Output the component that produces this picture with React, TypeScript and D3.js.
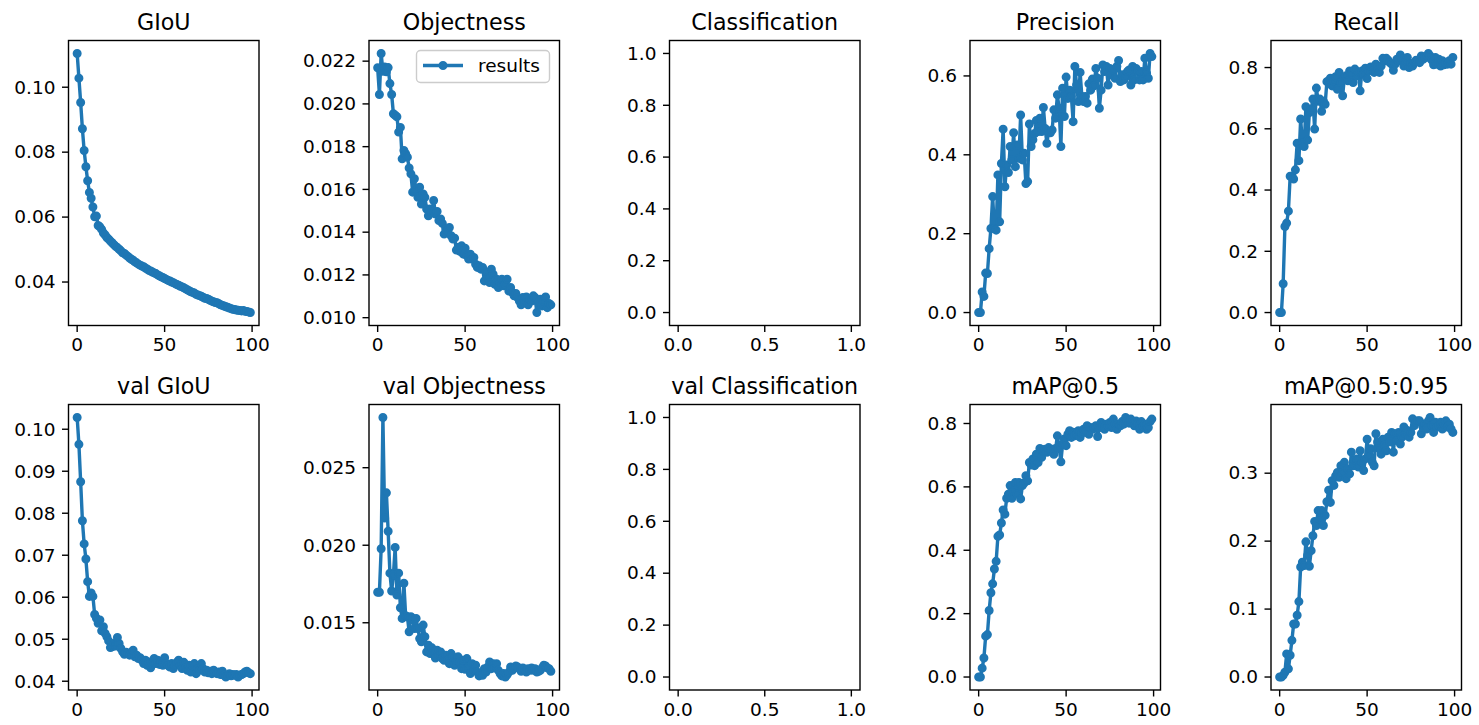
import React from "react";
import * as d3 from "d3";

// ---------- data (epochs 0..99) ----------
const giou = [
  0.1104, 0.1028, 0.0953, 0.0872, 0.0805, 0.0755, 0.0712, 0.0676, 0.0658, 0.0631,
  0.0601, 0.0603, 0.0574, 0.057, 0.0562, 0.0551, 0.0545, 0.0537, 0.0532, 0.0526,
  0.0521, 0.0515, 0.051, 0.0506, 0.0501, 0.0496, 0.049, 0.0488, 0.0483, 0.0479,
  0.0474, 0.047, 0.0467, 0.0462, 0.0459, 0.0455, 0.0452, 0.0449, 0.0447, 0.0443,
  0.044, 0.0436, 0.0434, 0.0431, 0.0428, 0.0426, 0.0422, 0.0419, 0.0416, 0.0414,
  0.0411, 0.0408, 0.0405, 0.0403, 0.04, 0.0398, 0.0395, 0.0392, 0.039, 0.0387,
  0.0385, 0.0382, 0.0379, 0.0376, 0.0373, 0.037, 0.0368, 0.0366, 0.0362, 0.036,
  0.0358, 0.0356, 0.0353, 0.035, 0.0349, 0.0347, 0.0344, 0.0341, 0.0339, 0.0337,
  0.0336, 0.0333, 0.033, 0.0328, 0.0326, 0.0324, 0.0322, 0.032, 0.0318, 0.0316,
  0.0315, 0.0314, 0.0313, 0.0312, 0.0311, 0.0312, 0.031, 0.0309, 0.0308, 0.0306,
];

const objectness = [
  0.02169, 0.02044, 0.02236, 0.02153, 0.02173, 0.0215, 0.0217, 0.02095, 0.02044, 0.01954,
  0.01947, 0.0194, 0.01868, 0.0189, 0.01743, 0.01782, 0.01767, 0.01751, 0.017, 0.01673,
  0.01587, 0.0165, 0.01595, 0.01563, 0.0161, 0.01532, 0.01579, 0.01563, 0.01508, 0.01477,
  0.01508, 0.01493, 0.01548, 0.01485, 0.01497, 0.01454, 0.01462, 0.01441, 0.01391, 0.01415,
  0.01407, 0.01422, 0.01383, 0.01368, 0.01372, 0.01316, 0.01329, 0.0131, 0.01336, 0.01297,
  0.01325, 0.0129, 0.01274, 0.01297, 0.01274, 0.01282, 0.0125, 0.01235, 0.01243, 0.01227,
  0.01235, 0.01172, 0.01211, 0.01188, 0.01164, 0.01227, 0.01203, 0.01156, 0.0118, 0.01141,
  0.01164, 0.0118, 0.01149, 0.01156, 0.0118, 0.01125, 0.01141, 0.01117, 0.01102, 0.01113,
  0.01094, 0.01078, 0.0106, 0.01094, 0.0107, 0.01097, 0.0106, 0.01086, 0.01078, 0.01102,
  0.01094, 0.01024, 0.0107, 0.01086, 0.01055, 0.01078, 0.01097, 0.01047, 0.01066, 0.0106,
];

const precision = [
  0, 0, 0.052, 0.041, 0.1, 0.099, 0.162, 0.213, 0.294, 0.213,
  0.209, 0.349, 0.23, 0.378, 0.465, 0.319, 0.374, 0.355, 0.421, 0.387,
  0.456, 0.37, 0.425, 0.391, 0.501, 0.387, 0.404, 0.327, 0.332, 0.478,
  0.421, 0.438, 0.454, 0.487, 0.459, 0.493, 0.459, 0.52, 0.467, 0.429,
  0.459, 0.456, 0.463, 0.514, 0.493, 0.552, 0.518, 0.421, 0.569, 0.497,
  0.597, 0.543, 0.564, 0.548, 0.484, 0.624, 0.577, 0.535, 0.609, 0.548,
  0.535, 0.548, 0.531, 0.58, 0.564, 0.592, 0.575, 0.619, 0.594, 0.518,
  0.564, 0.628, 0.611, 0.624, 0.577, 0.619, 0.603, 0.615, 0.594, 0.624,
  0.639, 0.586, 0.603, 0.59, 0.598, 0.611, 0.615, 0.577, 0.624, 0.59,
  0.619, 0.611, 0.59, 0.611, 0.59, 0.645, 0.607, 0.594, 0.657, 0.649,
];

const recall = [
  0, 0, 0.094, 0.281, 0.292, 0.331, 0.445, 0.445, 0.436, 0.466,
  0.553, 0.496, 0.632, 0.553, 0.542, 0.672, 0.563, 0.653, 0.664, 0.697,
  0.599, 0.733, 0.69, 0.697, 0.657, 0.69, 0.68, 0.754, 0.757, 0.765,
  0.74, 0.757, 0.77, 0.729, 0.784, 0.751, 0.708, 0.767, 0.773, 0.757,
  0.789, 0.78, 0.751, 0.795, 0.773, 0.784, 0.724, 0.789, 0.778, 0.798,
  0.764, 0.789, 0.802, 0.795, 0.784, 0.811, 0.8, 0.784, 0.805, 0.83,
  0.822, 0.83, 0.824, 0.816, 0.811, 0.791, 0.811, 0.827, 0.822, 0.841,
  0.827, 0.805, 0.822, 0.833, 0.8, 0.813, 0.805, 0.816, 0.824, 0.822,
  0.816, 0.838, 0.827, 0.835, 0.833, 0.846, 0.838, 0.824, 0.809, 0.833,
  0.811, 0.827, 0.805, 0.822, 0.809, 0.816, 0.811, 0.822, 0.811, 0.833,
];

const valGiou = [
  0.1028, 0.0964, 0.0875, 0.0782, 0.0727, 0.0691, 0.0637, 0.0602, 0.061, 0.0602,
  0.0559, 0.055, 0.0538, 0.0546, 0.052, 0.053, 0.0514, 0.0506, 0.0496, 0.048,
  0.0482, 0.049, 0.0484, 0.0504, 0.049, 0.0478, 0.047, 0.0464, 0.0469, 0.0466,
  0.0462, 0.0469, 0.0474, 0.0458, 0.0462, 0.0454, 0.0456, 0.045, 0.0442, 0.045,
  0.0438, 0.0446, 0.0432, 0.0442, 0.0454, 0.0442, 0.045, 0.044, 0.0446, 0.0438,
  0.0456, 0.0442, 0.0437, 0.0434, 0.0442, 0.043, 0.0437, 0.0445, 0.045, 0.0438,
  0.043, 0.0445, 0.0432, 0.0426, 0.0438, 0.0422, 0.0437, 0.0442, 0.0418, 0.043,
  0.0426, 0.0442, 0.043, 0.0422, 0.0426, 0.042, 0.0424, 0.0418, 0.0426, 0.042,
  0.0418, 0.0422, 0.0416, 0.0424, 0.0414, 0.041, 0.0414, 0.0418, 0.0413, 0.0416,
  0.0414, 0.0416, 0.041, 0.0414, 0.0416, 0.0418, 0.0422, 0.0424, 0.042, 0.0418,
];

const valObjectness = [
  0.01697, 0.01697, 0.01977, 0.02824, 0.02176, 0.02338, 0.0209, 0.0182, 0.01705, 0.01809,
  0.01986, 0.01679, 0.0182, 0.01597, 0.01528, 0.01755, 0.01545, 0.01539, 0.01442, 0.01539,
  0.01528, 0.01463, 0.01528, 0.01463, 0.01398, 0.01377, 0.01485, 0.0141, 0.01312, 0.01355,
  0.01301, 0.01338, 0.01312, 0.01273, 0.01323, 0.0129, 0.01312, 0.01269, 0.01258, 0.0129,
  0.01258, 0.01236, 0.01301, 0.0128, 0.01226, 0.01258, 0.0128, 0.01247, 0.01204, 0.01258,
  0.012, 0.01269, 0.01215, 0.01172, 0.01236, 0.01193, 0.01226, 0.01182, 0.01157, 0.01172,
  0.01161, 0.01204, 0.01182, 0.01215, 0.01247, 0.01204, 0.01236, 0.01209, 0.01236, 0.01193,
  0.01172, 0.01157, 0.01172, 0.0115, 0.01165, 0.01182, 0.01215, 0.01193, 0.01209, 0.01221,
  0.01215, 0.01204, 0.01187, 0.01209, 0.012, 0.01182, 0.01204, 0.01193, 0.01209, 0.01193,
  0.01204, 0.01182, 0.01187, 0.01193, 0.01209, 0.01226, 0.01221, 0.01209, 0.01204, 0.01187,
];

const map50 = [
  0, 0, 0.028, 0.06, 0.129, 0.134, 0.21, 0.266, 0.294, 0.341,
  0.365, 0.444, 0.448, 0.486, 0.527, 0.514, 0.564, 0.577, 0.604, 0.564,
  0.588, 0.614, 0.577, 0.614, 0.562, 0.604, 0.612, 0.635, 0.619, 0.677,
  0.669, 0.688, 0.667, 0.703, 0.677, 0.721, 0.693, 0.714, 0.719, 0.709,
  0.724, 0.714, 0.719, 0.703, 0.721, 0.761, 0.724, 0.679, 0.735, 0.751,
  0.73, 0.766, 0.777, 0.756, 0.772, 0.761, 0.766, 0.777, 0.756, 0.77,
  0.782, 0.772, 0.793, 0.766, 0.787, 0.782, 0.787, 0.793, 0.759, 0.787,
  0.803, 0.793, 0.782, 0.798, 0.791, 0.803, 0.787, 0.814, 0.798, 0.782,
  0.798, 0.793, 0.806, 0.798, 0.819, 0.808, 0.801, 0.814, 0.806, 0.793,
  0.808, 0.798, 0.782, 0.806, 0.791, 0.798, 0.782, 0.787, 0.806, 0.814,
];

const map5095 = [
  0, 0, 0.0025, 0.007, 0.034, 0.012, 0.032, 0.054, 0.078, 0.078,
  0.091, 0.111, 0.162, 0.169, 0.164, 0.199, 0.179, 0.163, 0.186, 0.208,
  0.229, 0.223, 0.245, 0.233, 0.245, 0.223, 0.238, 0.258, 0.275, 0.257,
  0.289, 0.282, 0.296, 0.301, 0.294, 0.311, 0.301, 0.316, 0.292, 0.306,
  0.299, 0.331, 0.311, 0.319, 0.321, 0.309, 0.333, 0.316, 0.304, 0.321,
  0.35, 0.326, 0.336, 0.316, 0.311, 0.358, 0.346, 0.336, 0.328, 0.35,
  0.341, 0.333, 0.353, 0.346, 0.36, 0.331, 0.358, 0.348, 0.36, 0.343,
  0.353, 0.368, 0.358, 0.363, 0.353, 0.36, 0.38, 0.37, 0.375, 0.377,
  0.377, 0.358, 0.368, 0.372, 0.365, 0.377, 0.382, 0.37, 0.36, 0.375,
  0.368, 0.37, 0.375, 0.365, 0.372, 0.377, 0.368, 0.372, 0.365, 0.36,
];

const titles = [
  "GIoU", "Objectness", "Classification", "Precision", "Recall",
  "val GIoU", "val Objectness", "val Classification", "mAP@0.5", "mAP@0.5:0.95",
];
const seriesList: (number[] | null)[] = [
  giou, objectness, null, precision, recall,
  valGiou, valObjectness, null, map50, map5095,
];
const yTickList = [
  [0.04, 0.06, 0.08, 0.1],
  [0.01, 0.012, 0.014, 0.016, 0.018, 0.02, 0.022],
  [0, 0.2, 0.4, 0.6, 0.8, 1.0],
  [0, 0.2, 0.4, 0.6],
  [0, 0.2, 0.4, 0.6, 0.8],
  [0.04, 0.05, 0.06, 0.07, 0.08, 0.09, 0.1],
  [0.015, 0.02, 0.025],
  [0, 0.2, 0.4, 0.6, 0.8, 1.0],
  [0, 0.2, 0.4, 0.6, 0.8],
  [0, 0.1, 0.2, 0.3],
];
const yFormats = [".2f", ".3f", ".1f", ".1f", ".1f", ".2f", ".3f", ".1f", ".1f", ".1f"];
const epochTicks = [0, 50, 100];
const emptyTicks = [0, 0.5, 1.0];
const legendLabel = "results";

// ---------- layout ----------
const W = 1479;
const H = 725;
const COLS = [68.5, 369, 669.5, 970, 1271];
const AW = 190.5;
const ROWS: [number, number][] = [
  [40.5, 325.5],
  [404.5, 690],
];
const BLUE = "#1f77b4";
const FONT = "DejaVu Sans, Liberation Sans, sans-serif";
const TICK_FS = 18.5;
const TITLE_FS = 22.2;
const TICK_LEN = 6.5;
const TICK_PAD = 6.5;

function padded(lo: number, hi: number): [number, number] {
  const r = hi - lo;
  return [lo - 0.05 * r, hi + 0.05 * r];
}

function Panel({ idx }: { idx: number }) {
  const col = idx % 5;
  const row = Math.floor(idx / 5);
  const left = COLS[col];
  const right = left + AW;
  const [top, bottom] = ROWS[row];
  const data = seriesList[idx];

  let xDomain: [number, number];
  let yDomain: [number, number];
  let xTicks: number[];
  let xFmt: (v: number) => string;
  if (data) {
    xDomain = padded(0, data.length - 1);
    yDomain = padded(d3.min(data)!, d3.max(data)!);
    xTicks = epochTicks;
    xFmt = d3.format("d");
  } else {
    xDomain = [-0.05, 1.05];
    yDomain = [-0.05, 1.05];
    xTicks = emptyTicks;
    xFmt = d3.format(".1f");
  }
  const x = d3.scaleLinear().domain(xDomain).range([left, right]);
  const y = d3.scaleLinear().domain(yDomain).range([bottom, top]);
  const yFmt = d3.format(yFormats[idx]);

  const line = d3
    .line<number>()
    .x((_, i) => x(i))
    .y((v) => y(v));

  return (
    <g>
      {data && (
        <g>
          <path d={line(data) || ""} fill="none" stroke={BLUE} strokeWidth={3.4} strokeLinejoin="round" strokeLinecap="butt" />
          {data.map((v, i) => (
            <circle key={i} cx={x(i)} cy={y(v)} r={3.6} fill={BLUE} stroke={BLUE} strokeWidth={1.8} />
          ))}
        </g>
      )}
      <rect x={left} y={top} width={AW} height={bottom - top} fill="none" stroke="#000" strokeWidth={1.4} />
      {yTickList[idx].map((t) => (
        <g key={"y" + t}>
          <line x1={left - TICK_LEN} x2={left} y1={y(t)} y2={y(t)} stroke="#000" strokeWidth={1.4} />
          <text x={left - TICK_LEN - TICK_PAD} y={y(t)} dy="0.34em" textAnchor="end" fontSize={TICK_FS} fontFamily={FONT} fill="#000">
            {yFmt(t)}
          </text>
        </g>
      ))}
      {xTicks.map((t) => (
        <g key={"x" + t}>
          <line x1={x(t)} x2={x(t)} y1={bottom} y2={bottom + TICK_LEN} stroke="#000" strokeWidth={1.4} />
          <text x={x(t)} y={bottom + 25.5} textAnchor="middle" fontSize={TICK_FS} fontFamily={FONT} fill="#000">
            {xFmt(t)}
          </text>
        </g>
      ))}
      <text x={(left + right) / 2} y={top - 11} textAnchor="middle" fontSize={TITLE_FS} fontFamily={FONT} fill="#000">
        {titles[idx]}
      </text>
      {idx === 1 && (
        <g>
          <rect x={416.5} y={50.5} width={133} height={32} rx={4} fill="#fff" fillOpacity={0.8} stroke="#cccccc" strokeWidth={1.4} />
          <line x1={423} x2={463} y1={65.5} y2={65.5} stroke={BLUE} strokeWidth={3.4} />
          <circle cx={443} cy={65.5} r={3.6} fill={BLUE} stroke={BLUE} strokeWidth={1.8} />
          <text x={478} y={72} fontSize={TICK_FS} fontFamily={FONT} fill="#000">
            {legendLabel}
          </text>
        </g>
      )}
    </g>
  );
}

export default function App() {
  return (
    <div style={{ position: "absolute", left: 0, top: 0, width: W, height: H, background: "#fff" }}>
      <svg width={W} height={H} viewBox={`0 0 ${W} ${H}`} style={{ display: "block" }}>
        <rect width={W} height={H} fill="#fff" />
        {titles.map((_, i) => (
          <Panel key={i} idx={i} />
        ))}
      </svg>
    </div>
  );
}
